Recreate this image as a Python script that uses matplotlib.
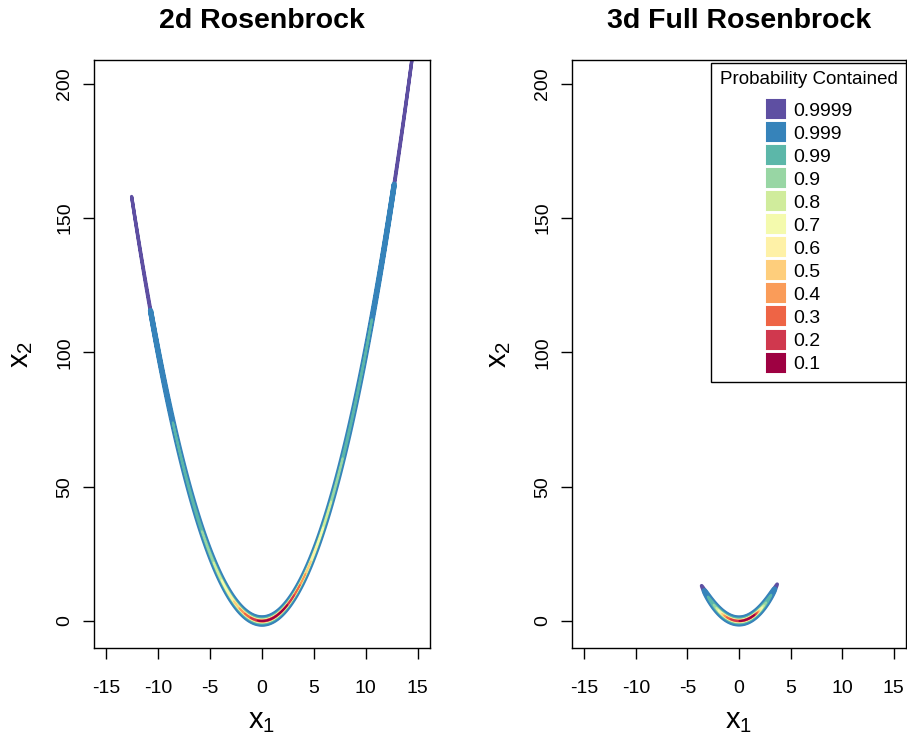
import numpy as np
import matplotlib
matplotlib.use("Agg")
import matplotlib.pyplot as plt
from matplotlib.lines import Line2D
import contourpy

plt.rcParams["font.family"] = ["Liberation Sans", "DejaVu Sans"]
plt.rcParams["mathtext.fontset"] = "custom"
plt.rcParams["mathtext.rm"] = "Liberation Sans"

# Rosenbrock kernel: a*(x_i - mu)^2 + b*(x_{i+1} - x_i^2)^2
ROS_A = 1.0 / 20.0
ROS_B = 100.0 / 20.0
ROS_MU = 1.0

prob_levels = [0.1, 0.2, 0.3, 0.4, 0.5, 0.6, 0.7, 0.8, 0.9, 0.99, 0.999, 0.9999]
level_labels = ["0.1", "0.2", "0.3", "0.4", "0.5", "0.6", "0.7", "0.8", "0.9",
                "0.99", "0.999", "0.9999"]
# Spectral ramp, 12 steps, innermost (0.1) to outermost (0.9999)
level_colors = ["#9E0142", "#D0384E", "#EE6445", "#FA9C59", "#FECE7C", "#FEF1A7",
                "#F4FAAD", "#D0EC9C", "#98D6A4", "#5CB7A9", "#3683BA", "#5E4FA2"]
# stroke width (pt) of each region outline
level_widths = [1.0, 1.0, 1.0, 1.0, 1.1, 1.1, 1.2, 1.2, 1.3, 1.6, 3.8, 2.4]

panel_titles = ["2d Rosenbrock", "3d Full Rosenbrock"]
x_ticks = [-15, -10, -5, 0, 5, 10, 15]
y_ticks = [0, 50, 100, 150, 200]


def log_dens_2d(x1, y):
    # y = x2 - x1^2
    return -ROS_A * (x1 - ROS_MU) ** 2 - ROS_B * y ** 2


def log_dens_3d(x1, y):
    # (x1, x2) marginal of the 3d full Rosenbrock; x3 integrates out to a constant
    x2 = y + x1 ** 2
    return -ROS_A * (x1 - ROS_MU) ** 2 - ROS_B * y ** 2 - ROS_A * (x2 - ROS_MU) ** 2


def hpd_regions(log_dens, x1_range, y_range, step):
    x1 = np.arange(x1_range[0], x1_range[1], step)
    y = np.arange(y_range[0], y_range[1], step)
    X1, Y = np.meshgrid(x1, y)
    dens = np.exp(log_dens(X1, Y))
    flat = np.sort(dens.ravel())[::-1]
    cum = np.cumsum(flat) / flat.sum()
    gen = contourpy.contour_generator(x1, y, dens, line_type="Separate")
    regions = []
    for p in prob_levels:
        thr = flat[min(np.searchsorted(cum, p), len(flat) - 1)]
        regions.append(gen.lines(thr))
    return regions


def draw_panel(ax, regions, title):
    for i in range(len(prob_levels) - 1, -1, -1):
        for seg in regions[i]:
            xs = seg[:, 0]
            x2 = seg[:, 1] + xs ** 2
            ax.fill(xs, x2, facecolor=level_colors[i], edgecolor=level_colors[i],
                    linewidth=level_widths[i], joinstyle="round", capstyle="round")
    ax.set_xlim(-16.2, 16.2)
    ax.set_ylim(-10.06, 208.9)
    ax.set_xticks(x_ticks)
    ax.set_xticklabels([str(t) for t in x_ticks])
    ax.set_yticks(y_ticks)
    ax.set_yticklabels([str(t) for t in y_ticks], rotation=90, va="center")
    ax.tick_params(direction="out", length=8, width=1, labelsize=14)
    ax.tick_params(axis="x", pad=15)
    ax.tick_params(axis="y", pad=7)
    for s in ax.spines.values():
        s.set_linewidth(1)
    ax.set_title(title, fontsize=20.5, fontweight="bold", pad=23)
    ax.set_xlabel(r"$\mathregular{x_1}$", fontsize=21, labelpad=7)
    ax.set_ylabel(r"$\mathregular{x_2}$", fontsize=21, labelpad=15)


fig = plt.figure(figsize=(9.07, 7.40), dpi=100)
ax1 = fig.add_axes([94 / 907, 92 / 740, 336 / 907, 588 / 740])
ax2 = fig.add_axes([572 / 907, 92 / 740, 334 / 907, 588 / 740])

reg2d = hpd_regions(log_dens_2d, (-16, 18), (-2.2, 2.2), 0.01)
reg3d = hpd_regions(log_dens_3d, (-6, 6), (-2.2, 2.2), 0.005)

draw_panel(ax1, reg2d, panel_titles[0])
draw_panel(ax2, reg3d, panel_titles[1])

handles = [Line2D([], [], linestyle="none", marker="s", markersize=13,
                  markerfacecolor=level_colors[i], markeredgecolor=level_colors[i],
                  markeredgewidth=1.5)
           for i in range(len(prob_levels) - 1, -1, -1)]
labels = [level_labels[i] for i in range(len(prob_levels) - 1, -1, -1)]
leg = ax2.legend(handles, labels, title="Probability Contained", loc="upper right",
                 bbox_to_anchor=(1.0, 0.995), borderaxespad=0, frameon=True,
                 fancybox=False, framealpha=1, edgecolor="black", fontsize=14,
                 title_fontsize=13.5, labelspacing=0.28, handletextpad=0.35,
                 handlelength=1.1, borderpad=0.38)
leg.get_frame().set_linewidth(1)
# more room between the title and the first entry, and a bit more inner padding
leg._legend_box.sep = 10
leg._legend_box.pad = 6

fig.savefig("out.png", dpi=100)
